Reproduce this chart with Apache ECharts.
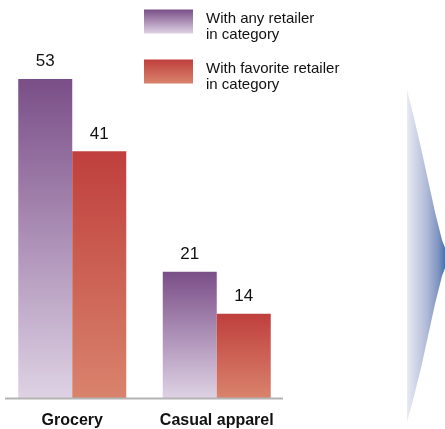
<!DOCTYPE html>
<html>
<head>
<meta charset="utf-8">
<script src="https://cdn.jsdelivr.net/npm/echarts@6/dist/echarts.min.js"></script>
<style>
  html, body { margin: 0; padding: 0; background: #fff; }
  #chart { width: 445px; height: 429px; }
</style>
</head>
<body>
<div id="chart"></div>
<script>
// Share of shoppers (%) by category
const categories = ['Grocery', 'Casual apparel'];
const anyRetailer = [53, 21];
const favoriteRetailer = [41, 14];
const seriesNames = ['With any retailer\nin category', 'With favorite retailer\nin category'];

const FONT = '"Liberation Sans Narrow", "Liberation Sans", Arial, sans-serif';

function linGrad(x2, y2, stops) {
  return {
    type: 'linear', x: 0, y: 0, x2: x2, y2: y2,
    colorStops: stops.map(function (s) { return { offset: s[0], color: s[1] }; })
  };
}

const purple = linGrad(0, 1, [[0, '#7a4e88'], [1, '#ded2e4']]);
const red = linGrad(0, 1, [[0, '#bf3f3d'], [1, '#d9836c']]);

const chart = echarts.init(document.getElementById('chart'), null, { renderer: 'canvas' });

const labelStyle = {
  show: true,
  position: 'top',
  distance: 9,
  color: '#111',
  fontFamily: FONT,
  fontSize: 17
};

// slightly bowed chevron outline on the right edge
const chevron = [
  [407, 90], [414, 118], [421, 148], [428, 180], [435, 212], [442, 240], [449, 258],
  [442, 276], [435, 304], [428, 336], [421, 368], [414, 396], [407, 422]
];

chart.setOption({
  animation: false,
  backgroundColor: '#fff',
  grid: { left: -2, width: 291, top: 37, bottom: 31, containLabel: false },
  legend: {
    orient: 'vertical',
    left: 144,
    top: 0,
    padding: 0,
    itemWidth: 49,
    itemHeight: 24,
    itemGap: 7,
    icon: 'rect',
    selectedMode: false,
    // a thin spacer line drops the two text lines below the swatch's top edge
    formatter: function (name) { return '{gap| }\n' + name; },
    textStyle: {
      color: '#111',
      fontFamily: FONT,
      fontSize: 15,
      lineHeight: 16,
      padding: [0, 0, 0, 8],
      rich: {
        gap: { fontSize: 1, lineHeight: 11 }
      }
    },
    data: seriesNames
  },
  xAxis: {
    type: 'category',
    data: categories,
    axisLine: { show: false },
    axisTick: { show: false },
    axisLabel: {
      interval: 0,
      color: '#111',
      fontFamily: FONT,
      fontWeight: 'bold',
      fontSize: 16,
      margin: 15
    }
  },
  yAxis: {
    type: 'value',
    min: 0,
    max: 60,
    show: false,
    splitLine: { show: false }
  },
  series: [
    {
      name: seriesNames[0],
      type: 'bar',
      data: anyRetailer,
      barWidth: 54,
      barGap: '0%',
      itemStyle: { color: purple },
      label: labelStyle
    },
    {
      name: seriesNames[1],
      type: 'bar',
      data: favoriteRetailer,
      barWidth: 54,
      barGap: '0%',
      itemStyle: { color: red },
      label: labelStyle
    }
  ],
  graphic: [
    {
      type: 'line',
      shape: { x1: 5, y1: 398.5, x2: 283, y2: 398.5 },
      style: { stroke: '#b4b4b4', lineWidth: 2 },
      z: 10
    },
    {
      type: 'polygon',
      shape: { points: chevron },
      style: {
        fill: linGrad(1, 0, [[0, '#e8eaf3'], [0.45, '#b3bdd9'], [0.75, '#7f93c1'], [1, '#1d62a5']])
      }
    }
  ]
});
</script>
</body>
</html>
